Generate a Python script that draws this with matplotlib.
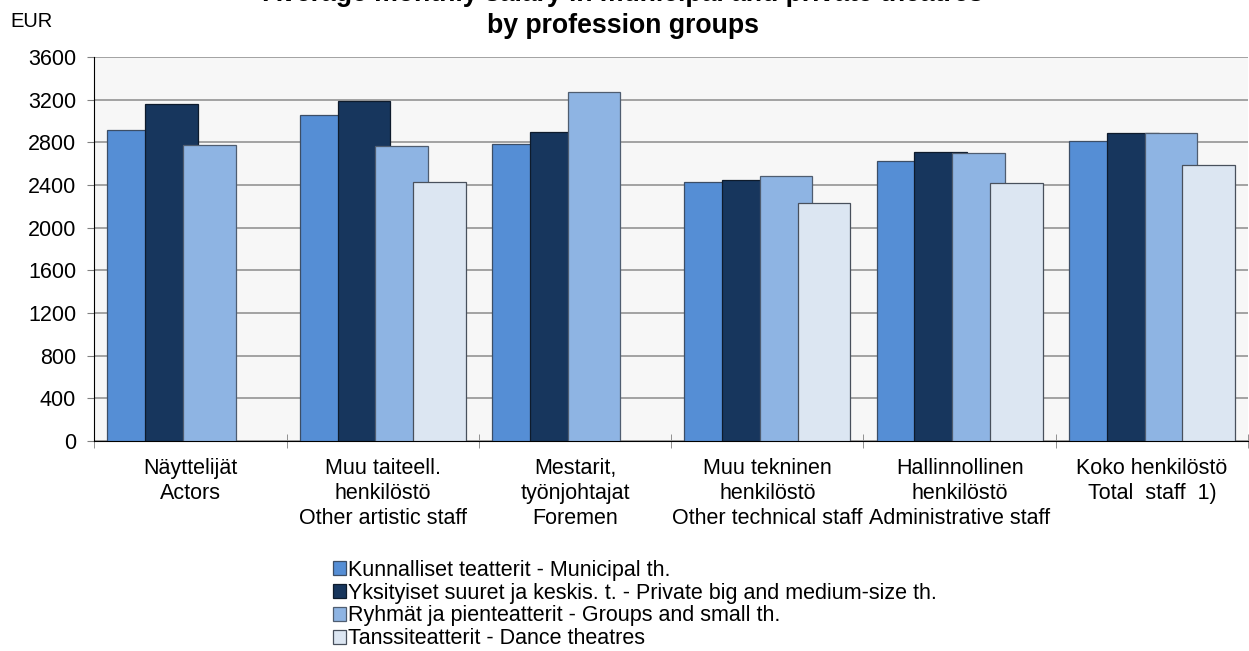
import numpy as np
import matplotlib
matplotlib.use("Agg")
import matplotlib.pyplot as plt

plt.rcParams['font.family'] = ['Liberation Sans', 'DejaVu Sans']

# profession groups
categories = ["Näyttelijät\nActors",
              "Muu taiteell.\nhenkilöstö\nOther artistic staff",
              "Mestarit,\ntyönjohtajat\nForemen",
              "Muu tekninen\nhenkilöstö\nOther technical staff",
              "Hallinnollinen\nhenkilöstö\nAdministrative staff",
              "Koko henkilöstö\nTotal  staff  1)"]

# average monthly salary, EUR
municipal = [2920, 3055, 2785, 2430, 2625, 2815]
private = [3160, 3185, 2900, 2445, 2710, 2890]
groups = [2775, 2765, 3270, 2480, 2700, 2885]
dance = [np.nan, 2425, np.nan, 2230, 2415, 2585]

series_names = ["Kunnalliset teatterit - Municipal th.",
                "Yksityiset suuret ja keskis. t. - Private big and medium-size th.",
                "Ryhmät ja pienteatterit - Groups and small th.",
                "Tanssiteatterit - Dance theatres"]
yticks = [0, 400, 800, 1200, 1600, 2000, 2400, 2800, 3200, 3600]

colors = ['#558ED5', '#17365D', '#8EB4E3', '#DCE6F2']
edges = ['#3C4E66', '#0E1B2C', '#4F5D70', '#48505C']

fig = plt.figure(figsize=(12.49, 6.51), dpi=100)
ax = fig.add_axes([94.3/1249, 210/651, (1248-94.3)/1249, 384/651])
ax.set_facecolor('#F7F7F7')

x = np.arange(len(categories))
step = 0.197
width = 0.273
for j, vals in enumerate([municipal, private, groups, dance]):
    ax.bar(x + (j - 1.5)*step, vals, width, color=colors[j], edgecolor=edges[j],
           linewidth=0.9, label=series_names[j], zorder=3)

ax.set_xlim(-0.5, len(categories) - 0.5)
ax.set_ylim(0, 3600)
ax.set_yticks(yticks)
ax.set_yticklabels([str(v) for v in yticks], fontsize=15.5)
ax.yaxis.grid(True, color='#9C9C9C', linewidth=1.3, zorder=0)
ax.set_axisbelow(True)

ax.set_xticks(x)
ax.set_xticklabels(categories, fontsize=15.5, linespacing=1.25)
ax.set_xticks(np.arange(-0.5, len(categories) + 0.5, 1), minor=True)
ax.tick_params(axis='x', which='major', length=0, pad=12)
ax.tick_params(axis='x', which='minor', direction='inout', length=10, color='#808080')
ax.tick_params(axis='y', length=5, color='#808080', pad=8)

for s in ['top', 'right']:
    ax.spines[s].set_visible(False)
ax.spines['left'].set_color('black')
ax.spines['bottom'].set_color('black')

fig.text(0.499, 1 - 1/651, "Average monthly salary in municipal and private theatres",
         ha='center', va='baseline', fontsize=19.2, fontweight='bold')
fig.text(0.499, 1 - 33.3/651, "by profession groups",
         ha='center', va='baseline', fontsize=19.2, fontweight='bold')
fig.text(10.7/1249, 1 - 27.3/651, "EUR", ha='left', va='baseline', fontsize=14.5)

fig.legend(loc='upper left', bbox_to_anchor=(332.7/1249, (651-560)/651),
           frameon=False, fontsize=15.5, handlelength=0.62, handleheight=0.62,
           handletextpad=0.11, labelspacing=0.08, borderpad=0, borderaxespad=0)

fig.savefig("out.png", dpi=100)
